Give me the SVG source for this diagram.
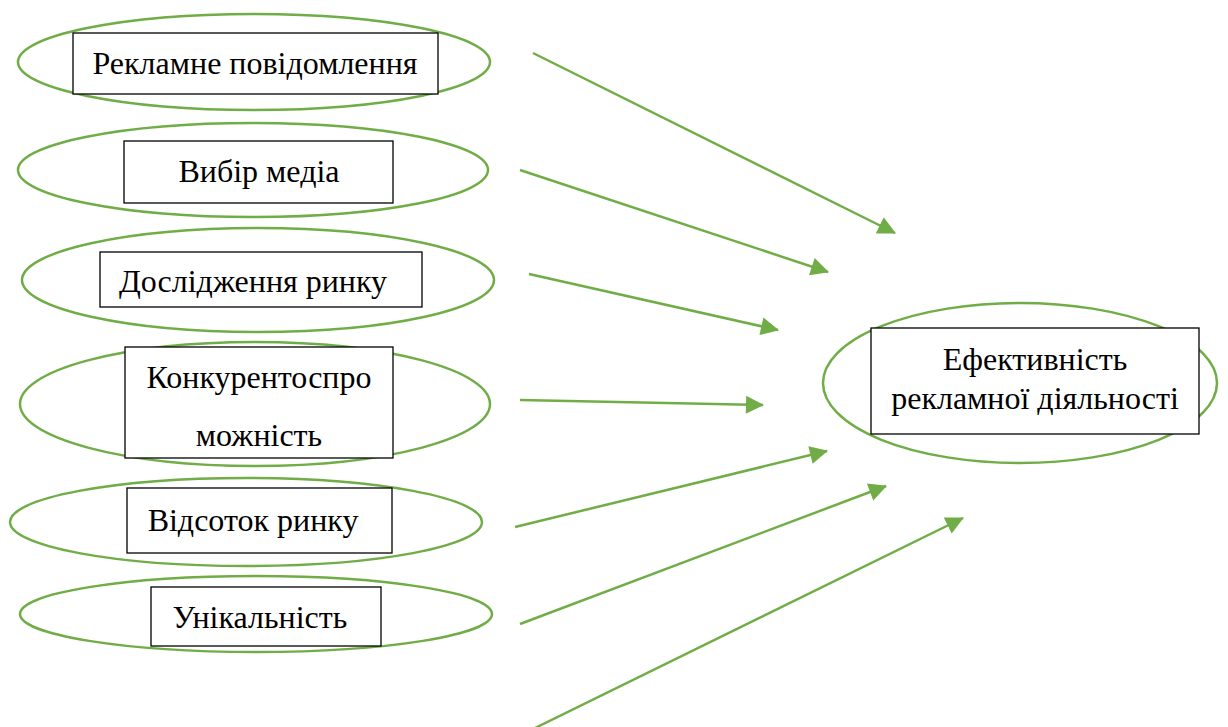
<svg xmlns="http://www.w3.org/2000/svg" width="1228" height="727" viewBox="0 0 1228 727">
<style>
.ell{fill:none;stroke:#70AD47;stroke-width:2.5}
.box{fill:#fff;stroke:#000;stroke-width:1.3}
.t{font-family:"Liberation Serif","Times New Roman",serif;font-size:32px;fill:#000;text-anchor:middle}
.c{stroke:#70AD47;stroke-width:2.5;fill:none;marker-end:url(#ah)}
</style>
<defs>
<marker id="ah" markerUnits="userSpaceOnUse" markerWidth="20" markerHeight="20" refX="17" refY="9" orient="auto" overflow="visible">
<path d="M0,0 L18,9 L0,18 Z" fill="#70AD47"/>
</marker>
</defs>
<rect width="1228" height="727" fill="#fff"/>
<g id="n1">
<ellipse class="ell" cx="254" cy="62" rx="236" ry="48"/>
<rect class="box" x="73" y="33" width="365" height="61"/>
<text class="t" x="255" y="74">Рекламне повідомлення</text>
</g>
<g id="n2">
<ellipse class="ell" cx="253" cy="170" rx="235" ry="47"/>
<rect class="box" x="124" y="141" width="269" height="62"/>
<text class="t" x="259" y="182">Вибір медіа</text>
</g>
<g id="n3">
<ellipse class="ell" cx="258" cy="280" rx="236" ry="52"/>
<rect class="box" x="100" y="252" width="322" height="55"/>
<text class="t" x="253" y="292">Дослідження ринку</text>
</g>
<g id="n4">
<ellipse class="ell" cx="255" cy="404" rx="235" ry="62"/>
<rect class="box" x="125" y="347" width="268" height="111"/>
<text class="t" x="259" y="388">Конкурентоспро</text>
<text class="t" x="259" y="446">можність</text>
</g>
<g id="n5">
<ellipse class="ell" cx="246" cy="522" rx="236" ry="44"/>
<rect class="box" x="127" y="488" width="265" height="65"/>
<text class="t" x="253" y="531">Відсоток ринку</text>
</g>
<g id="n6">
<ellipse class="ell" cx="256" cy="614" rx="236" ry="38"/>
<rect class="box" x="151" y="587" width="230" height="59"/>
<text class="t" x="260" y="628">Унікальність</text>
</g>
<g id="target">
<ellipse class="ell" cx="1020" cy="383" rx="197" ry="80"/>
<rect class="box" x="871" y="328" width="328" height="106"/>
<text class="t" x="1035" y="370">Ефективність</text>
<text class="t" x="1035" y="409">рекламної діяльності</text>
</g>
<g id="connectors">
<line class="c" x1="533" y1="53" x2="895" y2="233"/>
<line class="c" x1="520" y1="170" x2="828" y2="272"/>
<line class="c" x1="529" y1="274" x2="778" y2="330"/>
<line class="c" x1="520" y1="400" x2="763" y2="405"/>
<line class="c" x1="515" y1="527" x2="827" y2="451"/>
<line class="c" x1="520" y1="624" x2="886" y2="486"/>
<line class="c" x1="535" y1="728" x2="963" y2="518"/>
</g>
</svg>
